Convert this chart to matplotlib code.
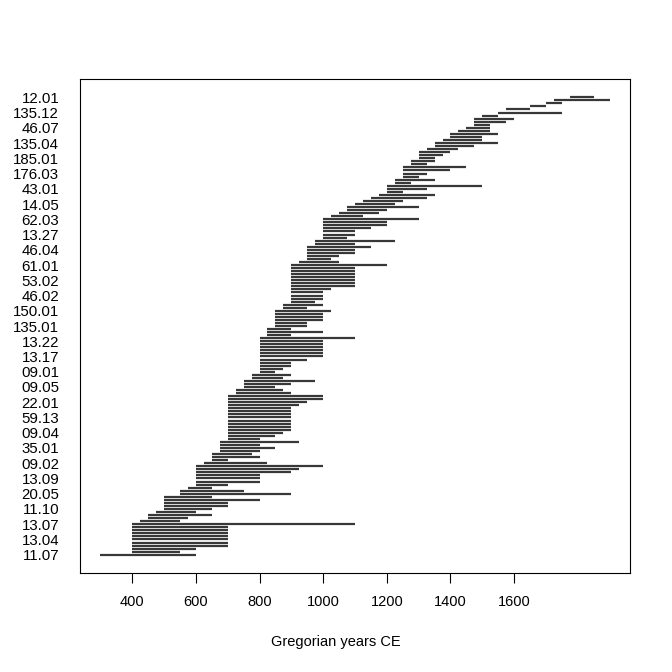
import matplotlib
matplotlib.use("Agg")
import matplotlib.pyplot as plt
import numpy as np

plt.rcParams['font.family'] = ['Liberation Sans', 'DejaVu Sans']

# start year of each row (bottom to top)
starts = [300, 400, 400, 400, 400, 400, 400, 400, 400, 400,
          400, 425, 450, 450, 475, 500, 500, 500, 500, 500,
          550, 550, 575, 600, 600, 600, 600, 600, 600, 600,
          625, 650, 650, 650, 675, 675, 675, 675, 700, 700,
          700, 700, 700, 700, 700, 700, 700, 700, 700, 700,
          700, 700, 700, 725, 725, 750, 750, 750, 775, 775,
          800, 800, 800, 800, 800, 800, 800, 800, 800, 800,
          800, 800, 825, 825, 825, 850, 850, 850, 850, 850,
          850, 875, 875, 900, 900, 900, 900, 900, 900, 900,
          900, 900, 900, 900, 900, 900, 925, 950, 950, 950,
          950, 950, 975, 975, 1000, 1000, 1000, 1000, 1000, 1000,
          1000, 1025, 1050, 1075, 1075, 1100, 1125, 1150, 1175, 1200,
          1200, 1200, 1225, 1225, 1250, 1250, 1250, 1250, 1275, 1275,
          1300, 1300, 1300, 1325, 1350, 1350, 1375, 1400, 1400, 1425,
          1450, 1475, 1475, 1475, 1500, 1550, 1575, 1650, 1700, 1725,
          1775]

# end year of each row (bottom to top)
ends = [600, 550, 600, 700, 700, 700, 700, 700, 700, 700,
        1100, 550, 575, 650, 600, 650, 700, 700, 800, 650,
        900, 750, 650, 700, 800, 800, 800, 900, 925, 1000,
        825, 700, 800, 775, 800, 850, 800, 925, 800, 850,
        875, 900, 900, 900, 900, 900, 900, 900, 900, 925,
        950, 1000, 1000, 900, 875, 850, 900, 975, 875, 900,
        850, 875, 900, 900, 950, 1000, 1000, 1000, 1000, 1000,
        1000, 1100, 900, 1000, 900, 950, 950, 1000, 1000, 1000,
        1025, 950, 1000, 975, 1000, 1000, 1000, 1025, 1100, 1100,
        1100, 1100, 1100, 1100, 1100, 1200, 1050, 1025, 1050, 1100,
        1100, 1150, 1100, 1225, 1075, 1100, 1100, 1150, 1200, 1200,
        1300, 1125, 1175, 1200, 1300, 1225, 1250, 1325, 1350, 1250,
        1325, 1500, 1275, 1350, 1300, 1325, 1400, 1450, 1325, 1350,
        1350, 1375, 1400, 1425, 1475, 1550, 1500, 1500, 1550, 1525,
        1525, 1525, 1575, 1600, 1550, 1750, 1650, 1700, 1750, 1900,
        1850]

# labels shown on the y axis (every 5th row, bottom to top)
y_labels = ["11.07", "13.04", "13.07", "11.10", "20.05", "13.09", "09.02",
            "35.01", "09.04", "59.13", "22.01", "09.05", "09.01", "13.17",
            "13.22", "135.01", "150.01", "46.02", "53.02", "61.01", "46.04",
            "13.27", "62.03", "14.05", "43.01", "176.03", "185.01", "135.04",
            "46.07", "135.12", "12.01"]

x_ticks = [400, 600, 800, 1000, 1200, 1400, 1600]

n = len(starts)
rows = np.arange(1, n + 1)

fig = plt.figure(figsize=(6.72, 6.72), dpi=100)
ax = fig.add_axes([80/672, 1 - 573/672, 550/672, 494/672])

ax.hlines(rows, starts, ends, colors='#383838', lw=1.6)

lo, hi = min(starts), max(ends)
pad = 0.04 * (hi - lo)
ax.set_xlim(lo - pad, hi + pad)
ax.set_ylim(1 - 0.04 * (n - 1), n + 0.04 * (n - 1))

ax.set_xticks(x_ticks)
ax.set_xticklabels([str(t) for t in x_ticks], fontsize=10.5)
ax.tick_params(axis='x', length=7, width=0.8, pad=9, color='black')

label_rows = rows[::5]
ax.set_yticks(label_rows)
ax.set_yticklabels(y_labels, fontsize=10.8)
ax.tick_params(axis='y', length=0, pad=15)

for s in ax.spines.values():
    s.set_linewidth(0.8)
    s.set_color('black')

fig.text(0.5, 1 - 641.7/672, "Gregorian years CE", ha='center', va='center', fontsize=10.5)

fig.savefig("out.png", dpi=100)
